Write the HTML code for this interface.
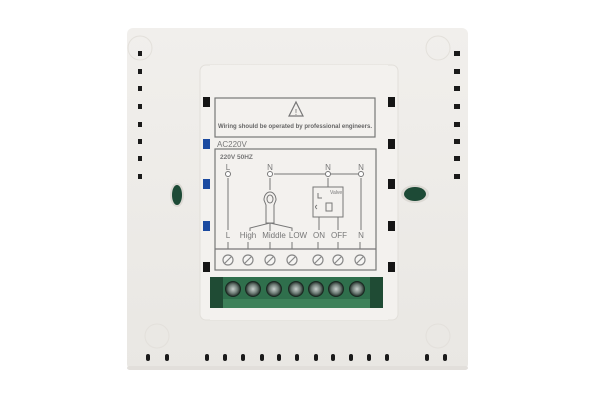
<!DOCTYPE html>
<html><head><meta charset="utf-8"><style>
html,body{margin:0;padding:0;background:#fff;width:600px;height:400px;overflow:hidden}
svg text{font-family:"Liberation Sans",sans-serif}
</style></head><body>
<svg width="600" height="400" viewBox="0 0 600 400" xmlns="http://www.w3.org/2000/svg">
<defs>
<linearGradient id="pl" x1="0" y1="0" x2="0" y2="1"><stop offset="0" stop-color="#f1efec"/><stop offset="1" stop-color="#e9e7e3"/></linearGradient>
<radialGradient id="sc"><stop offset="0" stop-color="#c8d0cc"/><stop offset="0.6" stop-color="#6f7d77"/><stop offset="1" stop-color="#1f2b26"/></radialGradient>
</defs>
<rect x="0" y="0" width="600" height="400" fill="#fff"/>
<rect x="127" y="28" width="341" height="342" rx="6" fill="url(#pl)"/>
<rect x="127" y="366" width="341" height="4" rx="3" fill="#e2dfdb"/>
<circle cx="140" cy="48" r="12" fill="none" stroke="#e3e0db"/>
<circle cx="438" cy="48" r="12" fill="none" stroke="#e3e0db"/>
<circle cx="157" cy="336" r="12" fill="none" stroke="#e3e0db"/>
<circle cx="438" cy="336" r="12" fill="none" stroke="#e3e0db"/>
<g fill="#1a1a1a">
<rect x="138" y="51" width="4" height="5"/><rect x="138" y="69" width="4" height="5"/><rect x="138" y="86" width="4" height="5"/><rect x="138" y="104" width="4" height="5"/><rect x="138" y="122" width="4" height="5"/><rect x="138" y="139" width="4" height="5"/><rect x="138" y="156" width="4" height="5"/><rect x="138" y="174" width="4" height="5"/>
<rect x="454" y="51" width="6" height="5"/><rect x="454" y="69" width="6" height="5"/><rect x="454" y="86" width="6" height="5"/><rect x="454" y="104" width="6" height="5"/><rect x="454" y="122" width="6" height="5"/><rect x="454" y="139" width="6" height="5"/><rect x="454" y="156" width="6" height="5"/><rect x="454" y="174" width="6" height="5"/>
</g>
<g fill="#1a1a1a">
<rect x="146" y="354" width="4" height="7" rx="2"/><rect x="165" y="354" width="4" height="7" rx="2"/><rect x="205" y="354" width="4" height="7" rx="2"/><rect x="223" y="354" width="4" height="7" rx="2"/><rect x="241" y="354" width="4" height="7" rx="2"/><rect x="260" y="354" width="4" height="7" rx="2"/><rect x="277" y="354" width="4" height="7" rx="2"/><rect x="295" y="354" width="4" height="7" rx="2"/><rect x="314" y="354" width="4" height="7" rx="2"/><rect x="331" y="354" width="4" height="7" rx="2"/><rect x="349" y="354" width="4" height="7" rx="2"/><rect x="367" y="354" width="4" height="7" rx="2"/><rect x="385" y="354" width="4" height="7" rx="2"/><rect x="425" y="354" width="4" height="7" rx="2"/><rect x="443" y="354" width="4" height="7" rx="2"/>
</g>
<ellipse cx="177" cy="195" rx="7" ry="12" fill="#dcd9d4"/>
<ellipse cx="177" cy="195" rx="5" ry="10" fill="#1d4a36"/>
<ellipse cx="415" cy="194" rx="14" ry="9" fill="#dcd9d4"/>
<ellipse cx="415" cy="194" rx="11" ry="7" fill="#1d4a36"/>
<rect x="200" y="65" width="198" height="255" rx="6" fill="#f3f1ee" stroke="#e2dfda"/>
<g fill="#151515">
<rect x="203" y="97" width="7" height="10"/><rect x="203" y="139" width="7" height="10" fill="#1b4aa0"/><rect x="203" y="179" width="7" height="10" fill="#1b4aa0"/><rect x="203" y="221" width="7" height="10" fill="#1b4aa0"/><rect x="203" y="262" width="7" height="10"/>
<rect x="388" y="97" width="7" height="10"/><rect x="388" y="139" width="7" height="10"/><rect x="388" y="179" width="7" height="10"/><rect x="388" y="221" width="7" height="10"/><rect x="388" y="262" width="7" height="10"/>
</g>
<rect x="210" y="65" width="178" height="255" fill="#f3f1ee"/>
<g stroke="#777" fill="none" stroke-width="1.2">
<rect x="215" y="98" width="160" height="39"/>
<path d="M296 102 L303 116 L289 116 Z"/>
<rect x="215" y="149" width="161" height="121"/>
<line x1="215" y1="249" x2="376" y2="249"/>
</g>
<text x="296" y="115" font-size="8" fill="#666" text-anchor="middle">!</text>
<text x="218" y="128" font-size="6.4" font-weight="bold" fill="#666" textLength="154" lengthAdjust="spacingAndGlyphs">Wiring should be operated by professional engineers.</text>
<text x="217" y="147" font-size="8" fill="#777">AC220V</text>
<text x="220" y="159" font-size="6.5" font-weight="bold" fill="#777">220V  50HZ</text>
<g font-size="8" fill="#777" text-anchor="middle">
<text x="228" y="170">L</text><text x="270" y="170">N</text><text x="328" y="170">N</text><text x="361" y="170">N</text>
<text x="228" y="238">L</text><text x="248" y="238">High</text><text x="274" y="238">Middle</text><text x="298" y="238">LOW</text><text x="319" y="238">ON</text><text x="339" y="238">OFF</text><text x="361" y="238">N</text>
</g>
<g stroke="#777" fill="none" stroke-width="1">
<line x1="228" y1="178" x2="228" y2="230"/>
<line x1="274" y1="174" x2="358" y2="174"/>
<line x1="361" y1="178" x2="361" y2="230"/>
<line x1="328" y1="178" x2="328" y2="187"/>
<line x1="270" y1="178" x2="270" y2="190"/>
<circle cx="228" cy="174" r="2.5" fill="#fff"/><circle cx="270" cy="174" r="2.5" fill="#fff"/><circle cx="328" cy="174" r="2.5" fill="#fff"/><circle cx="361" cy="174" r="2.5" fill="#fff"/>
<rect x="313" y="187" width="30" height="30"/>
<line x1="319" y1="217" x2="319" y2="230"/><line x1="338" y1="217" x2="338" y2="230"/>
<path d="M264 200 a6 8 0 1 1 12 0 l-2 5 v18 h-8 v-18 z"/>
<ellipse cx="270" cy="199" rx="3" ry="4"/>
<path d="M270 223 L250 228 V231 M270 223 V231 M270 223 L292 228 V231"/>
<path d="M318 193 v5 h4 M317 205 q-3 2 0 4 M326 203 h6 v8 h-6 z"/>
<line x1="228" y1="242" x2="228" y2="249"/><line x1="248" y1="242" x2="248" y2="249"/><line x1="270" y1="242" x2="270" y2="249"/><line x1="292" y1="242" x2="292" y2="249"/><line x1="318" y1="242" x2="318" y2="249"/><line x1="338" y1="242" x2="338" y2="249"/><line x1="360" y1="242" x2="360" y2="249"/>
</g>
<text x="330" y="194" font-size="5" fill="#777">Valve</text>
<g stroke="#888" stroke-width="1.2" fill="#f6f5f3">
<circle cx="228" cy="260" r="5"/><circle cx="248" cy="260" r="5"/><circle cx="270" cy="260" r="5"/><circle cx="292" cy="260" r="5"/><circle cx="318" cy="260" r="5"/><circle cx="338" cy="260" r="5"/><circle cx="360" cy="260" r="5"/>
</g>
<g stroke="#888" stroke-width="1.2">
<line x1="225" y1="263" x2="231" y2="257"/><line x1="245" y1="263" x2="251" y2="257"/><line x1="267" y1="263" x2="273" y2="257"/><line x1="289" y1="263" x2="295" y2="257"/><line x1="315" y1="263" x2="321" y2="257"/><line x1="335" y1="263" x2="341" y2="257"/><line x1="357" y1="263" x2="363" y2="257"/>
</g>
<rect x="210" y="277" width="173" height="31" rx="3" fill="#2f6f4c"/>
<rect x="210" y="277" width="13" height="31" fill="#1f4b34"/>
<rect x="370" y="277" width="13" height="31" fill="#1f4b34"/>
<rect x="223" y="299" width="147" height="9" fill="#3d8159"/>
<g fill="url(#sc)" stroke="#1a2a22" stroke-width="1">
<circle cx="233" cy="289" r="7.5"/><circle cx="253" cy="289" r="7.5"/><circle cx="274" cy="289" r="7.5"/><circle cx="296" cy="289" r="7.5"/><circle cx="316" cy="289" r="7.5"/><circle cx="336" cy="289" r="7.5"/><circle cx="357" cy="289" r="7.5"/>
</g>
</svg>
</body></html>
